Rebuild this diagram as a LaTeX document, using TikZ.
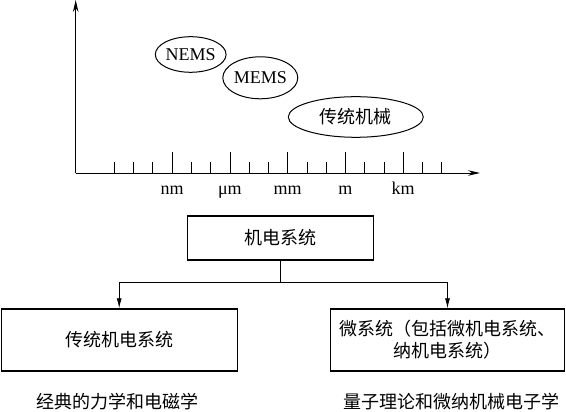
\documentclass[tikz,border=0pt]{standalone}
\usepackage{fontspec}
\setmainfont{Liberation Serif}
\newfontfamily\cjk{Noto Sans CJK SC}
\usetikzlibrary{arrows.meta,positioning,shapes.geometric}

\begin{document}
\begin{tikzpicture}[x=1pt,y=1pt,font=\fontsize{18}{21.7}\selectfont,
  box/.style={draw,line width=1.4pt,inner sep=0pt,align=center,font=\fontsize{18}{21.7}\cjk},
  oval/.style={draw,ellipse,line width=1pt,inner sep=0pt},
  unit/.style={anchor=base,inner sep=0pt}]
\useasboundingbox (0,0) rectangle (566,412);
% scale of sizes
\draw[line width=0.9pt,-{Stealth[length=12pt,width=5.5pt]}] (75.7,239) -- (480,239);
\draw[line width=0.9pt,-{Stealth[length=12pt,width=5.5pt]}] (75.7,239) -- (75.7,412);
\draw[line width=0.8pt] (114.3,239) -- (114.3,249.7);
\draw[line width=0.8pt] (133.6,239) -- (133.6,249.7);
\draw[line width=0.8pt] (152.8,239) -- (152.8,249.7);
\draw[line width=0.8pt] (172.1,239) -- (172.1,260);
\draw[line width=0.8pt] (191.3,239) -- (191.3,249.7);
\draw[line width=0.8pt] (210.6,239) -- (210.6,249.7);
\draw[line width=0.8pt] (229.9,239) -- (229.9,260);
\draw[line width=0.8pt] (249.1,239) -- (249.1,249.7);
\draw[line width=0.8pt] (268.4,239) -- (268.4,249.7);
\draw[line width=0.8pt] (287.6,239) -- (287.6,260);
\draw[line width=0.8pt] (306.9,239) -- (306.9,249.7);
\draw[line width=0.8pt] (326.2,239) -- (326.2,249.7);
\draw[line width=0.8pt] (345.4,239) -- (345.4,260);
\draw[line width=0.8pt] (364.7,239) -- (364.7,249.7);
\draw[line width=0.8pt] (383.9,239) -- (383.9,249.7);
\draw[line width=0.8pt] (403.2,239) -- (403.2,260);
\draw[line width=0.8pt] (422.5,239) -- (422.5,249.7);
\draw[line width=0.8pt] (441.7,239) -- (441.7,249.7);
\node[unit] (nm) at (172.1,217.7) {nm};
\node[unit] (um) at (229.9,217.7) {μm};
\node[unit] (mm) at (287.6,217.7) {mm};
\node[unit] (m) at (345.4,217.7) {m};
\node[unit] (km) at (403.2,217.7) {km};
\node[oval,minimum width=63.4,minimum height=35.6] (nems) at (190.7,357.5) {NEMS};
\node[oval,minimum width=74,minimum height=42] (mems) at (260.3,334.2) {MEMS};
\node[oval,minimum width=135,minimum height=40.6,font=\fontsize{18}{21.7}\cjk] (mech) at (355.8,295) {传统机械};
% systems
\node[box,minimum width=186,minimum height=44] (sys) at (280.7,174) {机电系统};
\node[box,minimum width=236,minimum height=62] (trad) at (119.2,72) {传统机电系统};
\node[box,minimum width=234,minimum height=62] (micro) at (447.5,72) {微系统（包括微机电系统、\\纳机电系统）};
\coordinate (fork) at (280.7,129.3);
\draw[line width=0.8pt] (sys.south) -- (fork);
\draw[line width=0.8pt,-{Latex[length=10pt,width=5pt]}] (fork) -| (trad.north);
\draw[line width=0.8pt,-{Latex[length=10pt,width=5pt]}] (fork) -| (micro.north);
\node[font=\fontsize{18}{21.7}\cjk] (classic) at (118,10) {经典的力学和电磁学};
\node[font=\fontsize{18}{21.7}\cjk] (quantum) at (451,10) {量子理论和微纳机械电子学};
\end{tikzpicture}
\end{document}
